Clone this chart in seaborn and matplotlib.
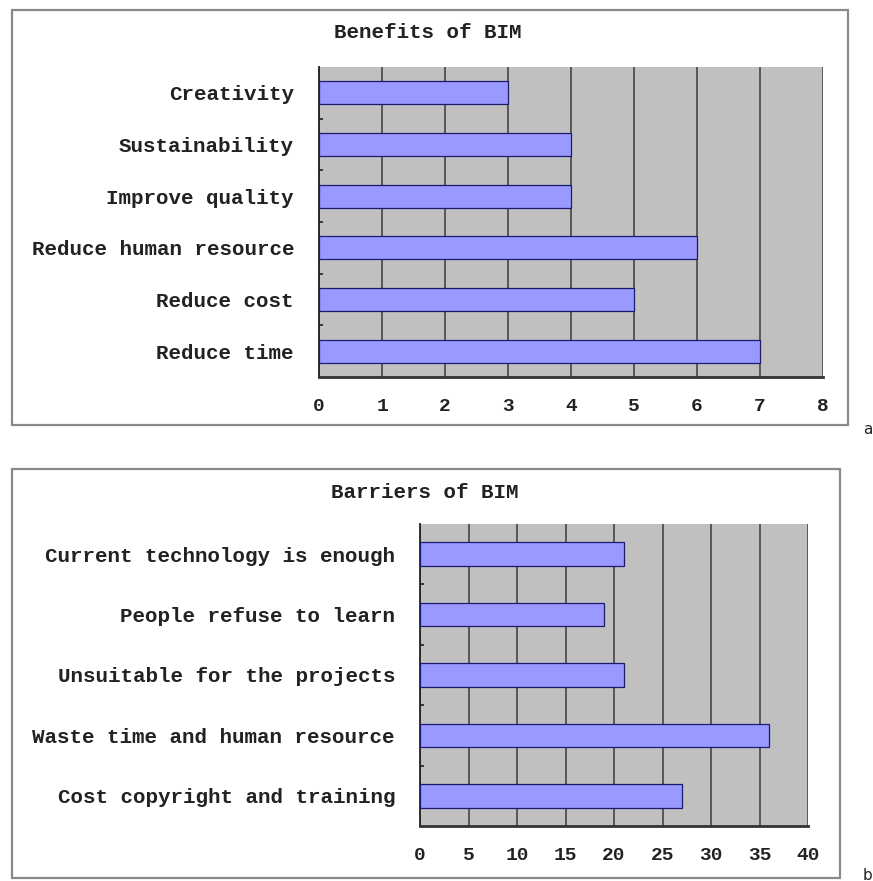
import matplotlib
matplotlib.use("Agg")
import matplotlib.pyplot as plt
import seaborn as sns
from matplotlib.patches import Rectangle

benefit_labels = ["Creativity", "Sustainability", "Improve quality",
                  "Reduce human resource", "Reduce cost", "Reduce time"]
benefit_values = [3, 4, 4, 6, 5, 7]
benefit_ticks = [0, 1, 2, 3, 4, 5, 6, 7, 8]

barrier_labels = ["Current technology is enough", "People refuse to learn",
                  "Unsuitable for the projects", "Waste time and human resource",
                  "Cost copyright and training"]
barrier_values = [21, 19, 21, 36, 27]
barrier_ticks = [0, 5, 10, 15, 20, 25, 30, 35, 40]

sns.set_theme(style="white")
plt.rcParams['font.family'] = ['Liberation Mono', 'DejaVu Sans']

W, H = 873, 881
fig = plt.figure(figsize=(W / 100, H / 100), dpi=100)
fig.patch.set_facecolor("white")


def fx(x):
    return x / W


def fy(y):
    return 1 - y / H


def add_box(x0, y0, x1, y1):
    fig.patches.append(Rectangle((fx(x0), fy(y1)), fx(x1) - fx(x0), fy(y0) - fy(y1),
                                 transform=fig.transFigure, fill=False,
                                 edgecolor="#8a8a8a", linewidth=1.6, zorder=0))


def panel(rect_px, labels, values, ticks, xmax, bar_h, title, title_xy, letter_xy):
    l, t, r, b = rect_px
    ax = fig.add_axes([fx(l), fy(b), fx(r) - fx(l), fy(t) - fy(b)])
    ax.set_facecolor("#c0c0c0")
    sns.barplot(x=values, y=labels, ax=ax, orient="h", color="#9999ff",
                saturation=1, width=bar_h, edgecolor="#1a1a6e", linewidth=0.9,
                zorder=3)
    ax.set_xlim(0, xmax)
    ax.set_ylim(len(labels) - 0.5, -0.5)
    ax.set_xticks(ticks)
    ax.set_xticklabels([str(v) for v in ticks])
    ax.set_axisbelow(True)
    ax.xaxis.grid(True, color="#3a3a3a", linewidth=1.1)
    ax.yaxis.grid(False)
    for s in ["top", "right"]:
        ax.spines[s].set_visible(False)
    ax.spines["left"].set_color("#222222")
    ax.spines["left"].set_linewidth(1.3)
    ax.spines["bottom"].set_color("#333333")
    ax.spines["bottom"].set_linewidth(2.0)
    ax.set_yticks([i + 0.5 for i in range(len(labels) - 1)], minor=True)
    ax.tick_params(axis="y", which="major", length=0, pad=18, labelsize=15)
    ax.tick_params(axis="y", which="minor", length=3, direction="in",
                   color="#222222", width=1.2, left=True)
    ax.tick_params(axis="x", which="major", length=0, pad=15, labelsize=14)
    for lab in ax.get_yticklabels() + ax.get_xticklabels():
        lab.set_fontweight("bold")
        lab.set_color("#222222")
    ax.set_xlabel("")
    ax.set_ylabel("")
    fig.text(fx(title_xy[0]), fy(title_xy[1]), title, ha="center", va="center",
             fontsize=15, fontweight="bold", color="#222222")
    fig.text(fx(letter_xy[0]), fy(letter_xy[1]), letter_xy[2], ha="center",
             va="center", fontsize=11, family="DejaVu Sans", color="#222222")
    return ax


add_box(12, 10, 848, 425)
add_box(12, 469, 840, 878)

panel((319, 67, 823, 377), benefit_labels, benefit_values, benefit_ticks, 8, 0.44,
      "Benefits of BIM", (428, 32), (868, 429, "a"))
panel((420, 524, 808, 826), barrier_labels, barrier_values, barrier_ticks, 40, 0.39,
      "Barriers of BIM", (425, 493), (868, 875, "b"))

fig.savefig("out.png", dpi=100)
